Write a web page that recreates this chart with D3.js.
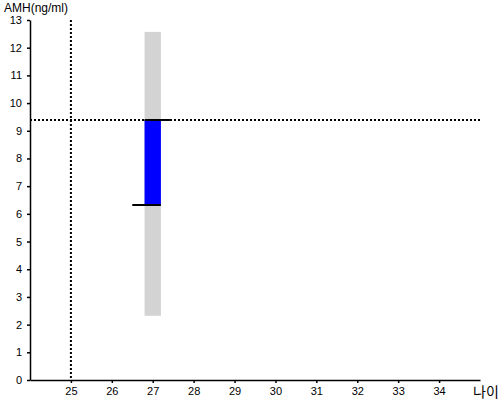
<!DOCTYPE html>
<html><head><meta charset="utf-8">
<script src="https://cdn.jsdelivr.net/npm/d3@7"></script>
<style>body{margin:0;background:#fff}svg{display:block;font-family:"Liberation Sans",Arial,sans-serif}</style>
</head><body>
<svg id="c" width="500" height="400"></svg>
<script>
const xTicks = [25,26,27,28,29,30,31,32,33,34];
const yTicks = [0,1,2,3,4,5,6,7,8,9,10,11,12,13];
const ages = [27];
const rangeLow = [2.32];
const rangeHigh = [12.57];
const valLow = [6.32];
const valHigh = [9.39];
const refAge = 25;
const refAMH = 9.39;

const svg = d3.select("#c");
const x = d3.scaleLinear().domain([24,35]).range([30,480]);
const y = d3.scaleLinear().domain([0,13]).range([380,20]);

svg.selectAll("rect.range").data(ages).join("rect")
  .attr("x", (d)=>x(d-0.2)).attr("width", (d)=>x(d+0.2)-x(d-0.2))
  .attr("y", (d,i)=>y(rangeHigh[i])).attr("height",(d,i)=>y(rangeLow[i])-y(rangeHigh[i]))
  .attr("fill","#d3d3d3");
svg.selectAll("rect.val").data(ages).join("rect")
  .attr("x", (d)=>x(d-0.2)).attr("width", (d)=>x(d+0.2)-x(d-0.2))
  .attr("y", (d,i)=>y(valHigh[i])).attr("height",(d,i)=>y(valLow[i])-y(valHigh[i]))
  .attr("fill","#0000ff");

svg.append("line").attr("x1",x(refAge)).attr("x2",x(refAge)).attr("y1",y(13)).attr("y2",y(0))
  .attr("stroke","#000").attr("stroke-width",2).attr("stroke-dasharray","2,2");
svg.append("line").attr("x1",x(24)).attr("x2",x(35)).attr("y1",y(refAMH)).attr("y2",y(refAMH))
  .attr("stroke","#000").attr("stroke-width",2).attr("stroke-dasharray","2,2");

ages.forEach((a,i)=>{
  svg.append("line").attr("x1",x(a-0.2)).attr("x2",x(a+0.45)).attr("y1",y(valHigh[i])).attr("y2",y(valHigh[i]))
    .attr("stroke","#000").attr("stroke-width",2);
  svg.append("line").attr("x1",x(a-0.5)).attr("x2",x(a+0.2)).attr("y1",y(valLow[i])).attr("y2",y(valLow[i]))
    .attr("stroke","#000").attr("stroke-width",2);
});

const gx = svg.append("g").attr("transform","translate(0,380)")
  .call(d3.axisBottom(x).tickValues(xTicks).tickSize(3).tickSizeOuter(0).tickPadding(4));
const gy = svg.append("g").attr("transform","translate(30,0)")
  .call(d3.axisLeft(y).tickValues(yTicks).tickSize(3).tickSizeOuter(0).tickPadding(5));
[gx,gy].forEach(g=>{
  g.selectAll("path,line").attr("stroke","#000").attr("stroke-width",1.5);
  g.selectAll("text").attr("font-size",11).attr("fill","#000").attr("font-family","Liberation Sans, Arial, sans-serif");
});

svg.append("text").attr("x",4).attr("y",12).attr("font-size",12).text("AMH(ng/ml)");
svg.append("text").attr("x",473).attr("y",397).attr("font-size",14).attr("font-family","Noto Sans CJK KR").text("나이");
</script>
</body></html>
